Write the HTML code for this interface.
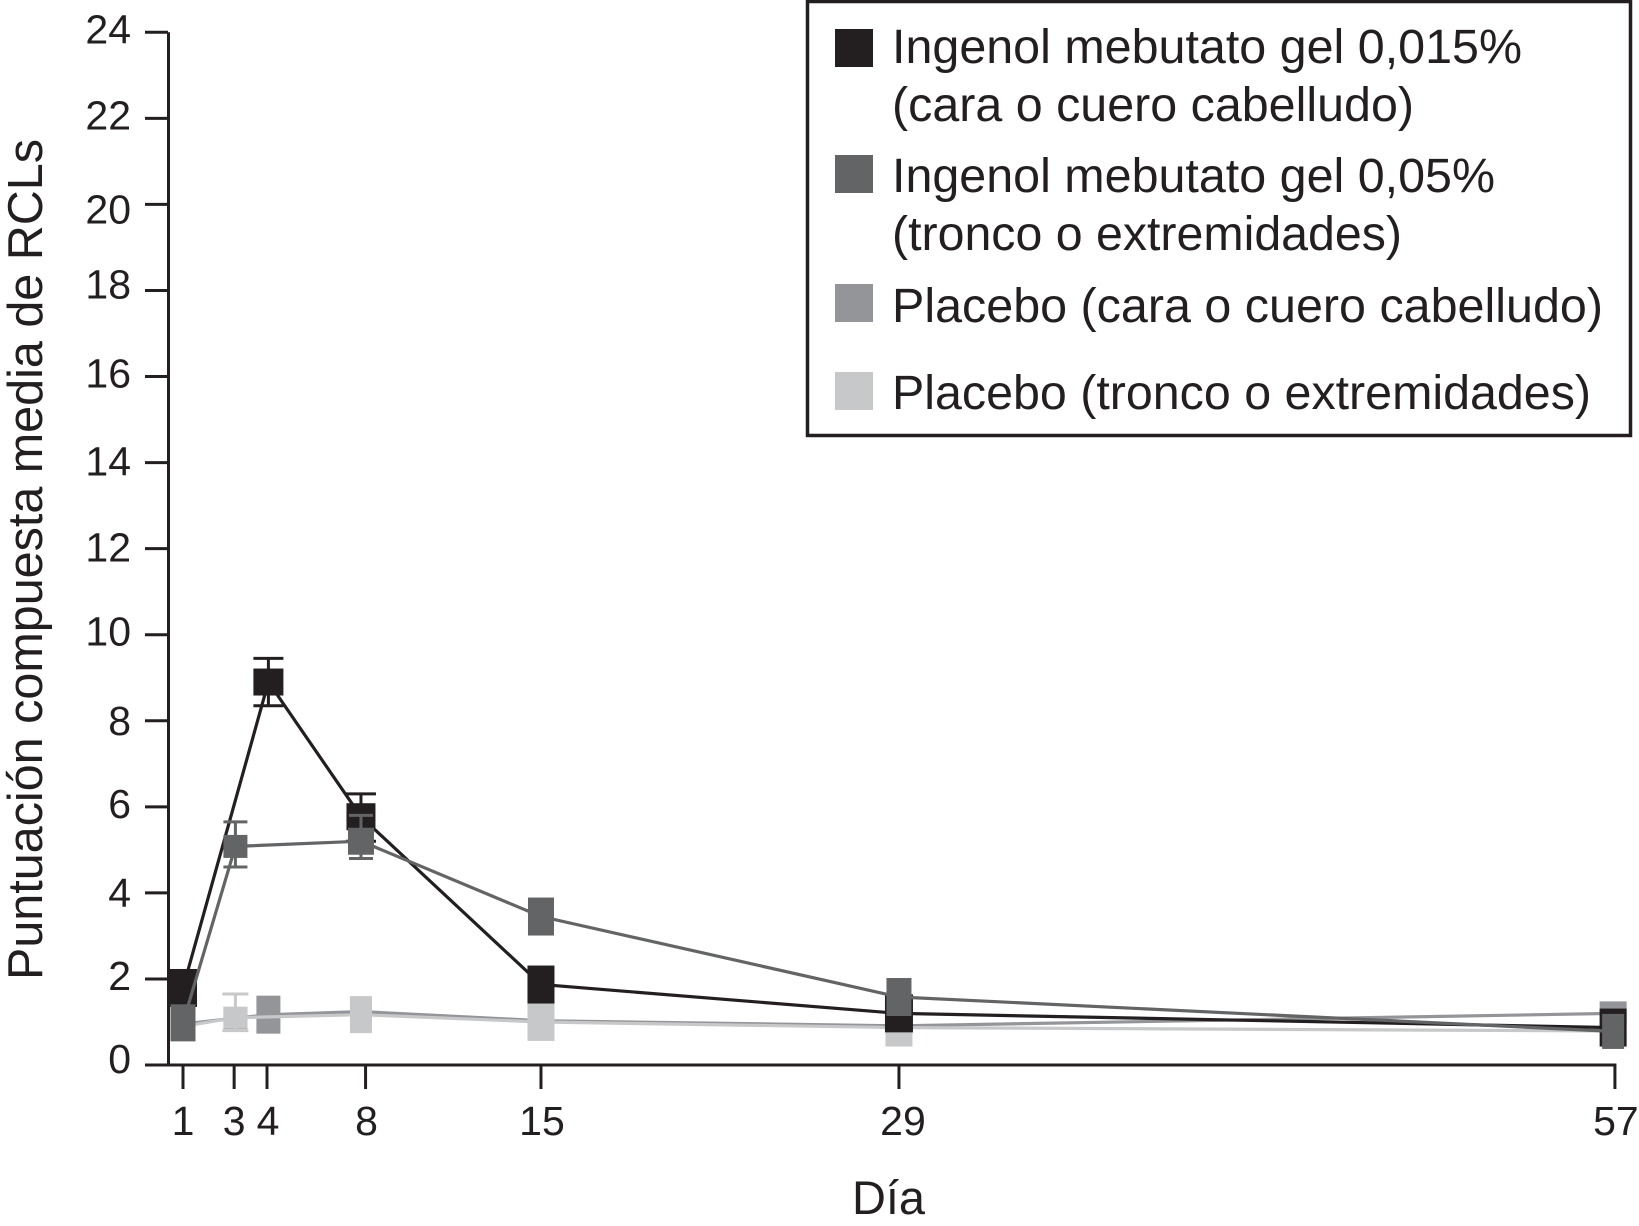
<!DOCTYPE html>
<html lang="es">
<head>
<meta charset="utf-8">
<title>Puntuación compuesta media de RCLs</title>
<style>
html,body{margin:0;padding:0;background:#fff;}
svg{display:block;}
text{font-family:"Liberation Sans",sans-serif;fill:#231f20;}
</style>
</head>
<body>
<svg id="chart" xmlns="http://www.w3.org/2000/svg" width="1639" height="1226" viewBox="0 0 1639 1226">
  <rect x="0" y="0" width="1639" height="1226" fill="#fff"/>
  <g id="axes"></g>
  <g id="marks"></g>
  <text transform="translate(42,980) rotate(-90)" font-size="49" textLength="841" lengthAdjust="spacingAndGlyphs">Puntuación compuesta media de RCLs</text>
  <text x="852" y="1214" font-size="47" textLength="73" lengthAdjust="spacingAndGlyphs">Día</text>
  <g>
    <rect x="807.5" y="1.5" width="823" height="434" fill="#fff" stroke="#231f20" stroke-width="3.5"/>
    <rect x="835" y="29" width="38" height="38" fill="#231f20"/>
    <text x="892" y="63" font-size="48" textLength="630" lengthAdjust="spacingAndGlyphs">Ingenol mebutato gel 0,015%</text>
    <text x="892" y="121" font-size="48" textLength="522" lengthAdjust="spacingAndGlyphs">(cara o cuero cabelludo)</text>
    <rect x="835" y="155" width="38" height="38" fill="#636466"/>
    <text x="892" y="192" font-size="48" textLength="603" lengthAdjust="spacingAndGlyphs">Ingenol mebutato gel 0,05%</text>
    <text x="892" y="250" font-size="48" textLength="510" lengthAdjust="spacingAndGlyphs">(tronco o extremidades)</text>
    <rect x="835" y="284" width="38" height="38" fill="#939598"/>
    <text x="892" y="322" font-size="48" textLength="711" lengthAdjust="spacingAndGlyphs">Placebo (cara o cuero cabelludo)</text>
    <rect x="835" y="372" width="38" height="38" fill="#c7c8ca"/>
    <text x="892" y="409" font-size="48" textLength="699" lengthAdjust="spacingAndGlyphs">Placebo (tronco o extremidades)</text>
  </g>
</svg>
<script>
// Chart data
const yTickLabels = [0,2,4,6,8,10,12,14,16,18,20,22,24];
const xTickLabels = ["1","3","4","8","15","29","57"];
const xTickDays = [1,3,4.285,8.14,15,29,57];
const pointDays = [1,3.05,4.34,7.96,15,29,56.93];

const ingenol0015Values = [1.79,null,8.9,5.77,1.87,1.2,0.87];
const ingenol0015Upper = [null,null,9.45,6.3,null,null,null];
const ingenol0015Lower = [null,null,8.35,5.2,null,null,null];

const ingenol005Values = [0.98,5.08,null,5.2,3.45,1.58,0.78];
const ingenol005Upper = [null,5.65,null,5.8,null,null,null];
const ingenol005Lower = [null,4.6,null,4.8,null,null,null];

const placeboCaraValues = [0.95,1.09,1.17,1.24,1.03,0.91,1.2];
const placeboTroncoValues = [0.9,1.1,null,1.17,1.0,0.87,0.79];
const placeboTroncoUpper = [null,1.65,null,null,null,null,null];
const placeboTroncoLower = [null,0.8,null,null,null,null,null];

// Scales
function xScale(day){ return 183 + 25.57 * (day - 1); }
function yScale(v){ return 1065 - 43.03 * v; }

// Label placement tweaks (drawing style)
const yLabelShift = {0:-3, 4:3, 8:3, 12:2, 14:2, 18:-3, 20:8};
const xLabelShift = {"1":-1, "3":-1, "29":3};

// Marker box sizes (drawing style), one [w,h] per day
const tall = [27,38];
const markerBoxes = {
  black: [[28,38],null,[30,27],[29,27],tall,[28,38],tall],
  dark:  [[25,37],[24,23],null,[26,27],[26,38],[25,38],[22,35]],
  gray:  [[25,30],[24,22],[24,38],[22,30],[26,30],[26,30],[27,24]],
  light: [[25,30],[24,22],null,[22,37],tall,[27,38],[24,24]]
};

const NS = "http://www.w3.org/2000/svg";
const axes = document.getElementById("axes");
const marks = document.getElementById("marks");

function line(parent, x1, y1, x2, y2, color, width){
  const el = document.createElementNS(NS, "line");
  el.setAttribute("x1", x1);
  el.setAttribute("y1", y1);
  el.setAttribute("x2", x2);
  el.setAttribute("y2", y2);
  el.setAttribute("stroke", color);
  el.setAttribute("stroke-width", width);
  parent.appendChild(el);
  return el;
}

// Axes
const ink = "#231f20";
const yAxisLine = line(axes, 168.5, yScale(24), 168.5, yScale(0) + 1.5, ink, 3);


const xAxisLine = line(axes, 145, yScale(0), xScale(57) + 1.5, yScale(0), ink, 3);



yTickLabels.forEach(function(t){
  const y = yScale(t);
  const tick = line(axes, 145, y, 168, y, ink, 3);
  
  
  const label = document.createElementNS(NS, "text");
  label.setAttribute("x", 131);
  label.setAttribute("y", y + 11 + (yLabelShift[t] || 0));
  label.setAttribute("font-size", 41);
  label.setAttribute("text-anchor", "end");
  label.textContent = t;
  
  
  axes.appendChild(label);
});

xTickLabels.forEach(function(t, i){
  const x = xScale(xTickDays[i]);
  const tick = line(axes, x, yScale(0), x, 1089, ink, 3);
  
  
  const label = document.createElementNS(NS, "text");
  label.setAttribute("x", x + 1 + (xLabelShift[t] || 0));
  label.setAttribute("y", 1135);
  label.setAttribute("font-size", 41);
  label.setAttribute("text-anchor", "middle");
  label.textContent = t;
  
  
  axes.appendChild(label);
});

// Series, drawn back to front
const seriesList = [
  {key:"placebo-cara", color:"#939598", boxes:markerBoxes.gray, values:placeboCaraValues, upper:null, lower:null, cap:24},
  {key:"placebo-tronco", color:"#c7c8ca", boxes:markerBoxes.light, values:placeboTroncoValues, upper:placeboTroncoUpper, lower:placeboTroncoLower, cap:26},
  {key:"ingenol-0015", color:"#231f20", boxes:markerBoxes.black, values:ingenol0015Values, upper:ingenol0015Upper, lower:ingenol0015Lower, cap:30},
  {key:"ingenol-005", color:"#636466", boxes:markerBoxes.dark, values:ingenol005Values, upper:ingenol005Upper, lower:ingenol005Lower, cap:24}
];

seriesList.forEach(function(s){
  const group = document.createElementNS(NS, "g");
  
  
  marks.appendChild(group);

  const pts = [];
  s.values.forEach(function(v, i){
    if (v !== null) pts.push(xScale(pointDays[i]).toFixed(1) + "," + yScale(v).toFixed(1));
  });
  const path = document.createElementNS(NS, "polyline");
  path.setAttribute("points", pts.join(" "));
  path.setAttribute("fill", "none");
  path.setAttribute("stroke", s.color);
  path.setAttribute("stroke-width", 3.2);
  
  
  group.appendChild(path);

  s.values.forEach(function(v, i){
    if (v === null) return;
    const box = s.boxes[i];
    const cx = xScale(pointDays[i]);
    const cy = yScale(v);
    const rect = document.createElementNS(NS, "rect");
    rect.setAttribute("x", cx - box[0] / 2);
    rect.setAttribute("y", cy - box[1] / 2);
    rect.setAttribute("width", box[0]);
    rect.setAttribute("height", box[1]);
    rect.setAttribute("fill", s.color);
    
    
    group.appendChild(rect);
  });

  if (s.upper) {
    s.upper.forEach(function(hi, i){
      if (hi === null) return;
      const lo = s.lower[i];
      const cx = xScale(pointDays[i]);
      const stem = line(group, cx, yScale(hi), cx, yScale(lo), s.color, 3);
      
      
      const capTop = line(group, cx - s.cap / 2, yScale(hi), cx + s.cap / 2, yScale(hi), s.color, 3);
      
      
      const capBottom = line(group, cx - s.cap / 2, yScale(lo), cx + s.cap / 2, yScale(lo), s.color, 3);
      
      
    });
  }
});
</script>
</body>
</html>
